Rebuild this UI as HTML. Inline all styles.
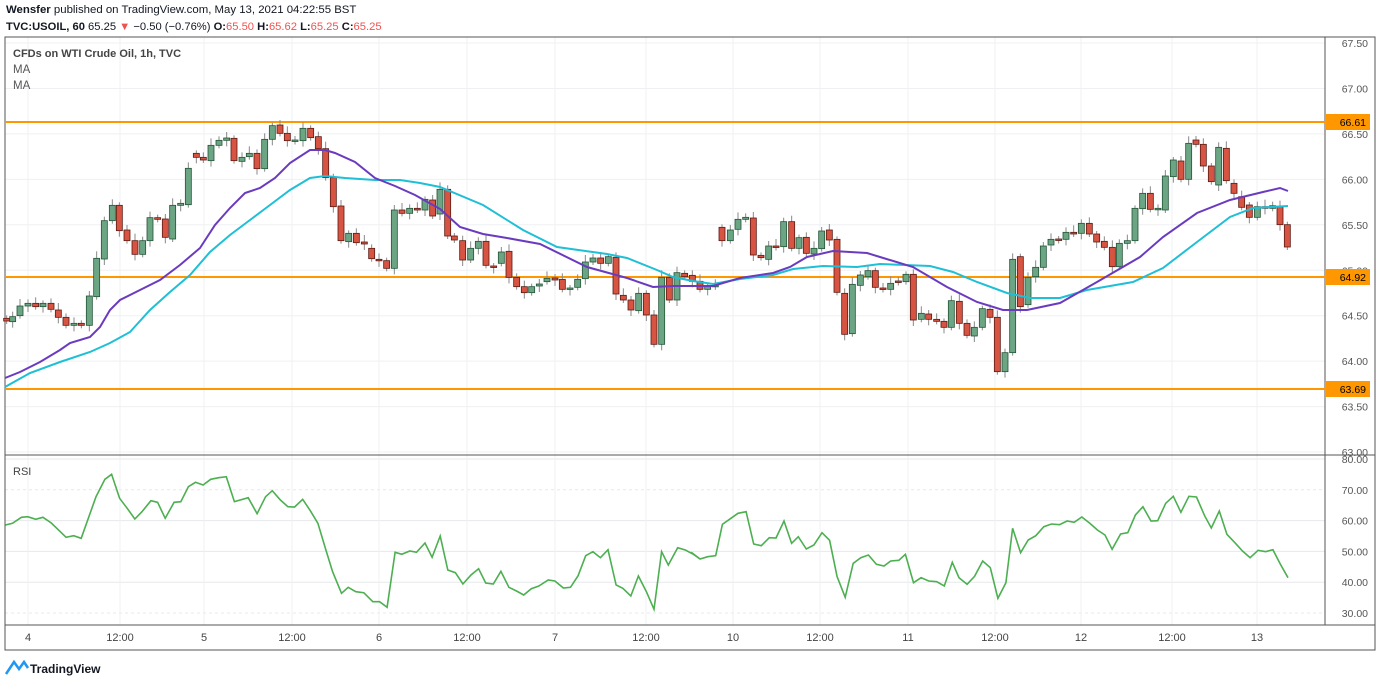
<!DOCTYPE html>
<html><head><meta charset="utf-8">
<style>
body{margin:0;width:1380px;height:685px;background:#fff;overflow:hidden;font-family:"Liberation Sans",Arial,sans-serif;}
#hdr{position:absolute;left:6px;top:2px;font-size:11.4px;color:#131722;line-height:17px;}
#hdr div+div{font-size:11.2px}
#hdr b{font-weight:bold}
.r{color:#ef5350}
</style></head><body>
<div id="hdr"><div><b>Wensfer</b> published on TradingView.com, May 13, 2021 04:22:55 BST</div>
<div><b>TVC:USOIL, 60</b> 65.25 <span class="r">▼</span> −0.50 (−0.76%) <b>O:</b><span class="r">65.50</span> <b>H:</b><span class="r">65.62</span> <b>L:</b><span class="r">65.25</span> <b>C:</b><span class="r">65.25</span></div></div>
<svg id="s" width="1380" height="685" style="position:absolute;left:0;top:0" xmlns="http://www.w3.org/2000/svg"></svg>
<script>
const S=document.getElementById('s');let h='';
const L=5,R=1325,T=37,M=455,B=625;
for(let p=63;p<=67.5;p+=0.5){let y=43+(67.5-p)*90.9;h+=`<line x1="${L}" x2="${R}" y1="${y}" y2="${y}" stroke="#eef0f3"/>`;h+=`<text x="1368" y="${y+4}" font-size="10.5" fill="#555" text-anchor="end">${p.toFixed(2)}</text>`;}
for(let v=30;v<=80;v+=10){let y=459+(80-v)*3.08;let d=(v==30||v==70)?' stroke-dasharray="3,3"':'';h+=`<line x1="${L}" x2="${R}" y1="${y}" y2="${y}" stroke="#e6e8eb"${d}/>`;h+=`<text x="1368" y="${y+4}" font-size="10.5" fill="#555" text-anchor="end">${v.toFixed(2)}</text>`;}
const tl=[[28,'4'],[120,'12:00'],[204,'5'],[292,'12:00'],[379,'6'],[467,'12:00'],[555,'7'],[646,'12:00'],[733,'10'],[820,'12:00'],[908,'11'],[995,'12:00'],[1081,'12'],[1172,'12:00'],[1257,'13']];
tl.forEach(t=>{h+=`<line x1="${t[0]}" x2="${t[0]}" y1="${T}" y2="${B}" stroke="#eef0f3"/>`;h+=`<text x="${t[0]}" y="641" font-size="11" fill="#444" text-anchor="middle">${t[1]}</text>`;});
h+=`<rect x="${L}" y="${T}" width="${R-L}" height="${B-T}" fill="none" stroke="#555"/>`;
h+=`<line x1="${L}" x2="1375" y1="${M}" y2="${M}" stroke="#555"/>`;
h+=`<rect x="${L}" y="${T}" width="1370" height="${650-T}" fill="none" stroke="#555"/>`;
h+=`<line x1="${L}" x2="1375" y1="${B}" y2="${B}" stroke="#555"/>`;
const z1=[[20,'r',655,663],[38,'g',650,665],[60,'g',618,647],[84,'g',610,618],[107,'r',610,620],[129,'g',610,620],[153,'r',610,628],[175,'r',630,652],[198,'r',652,676],[222,'g',670,676],[244,'r',670,676],[268,'g',588,676],[290,'g',475,590],[313,'g',362,477],[337,'g',316,362],[358,'r',316,392],[381,'r',390,422],[405,'r',422,463],[428,'g',422,463],[450,'g',353,422],[473,'r',353,358],[496,'r',357,412],[518,'g',316,417],[542,'g',310,316],[565,'g',205,314],[589,'r',160,172],[610,'r',172,180],[633,'g',136,182],[657,'g',121,136],[680,'g',114,121],[702,'r',115,182],[726,'g',172,184],[748,'g',160,170],[771,'r',160,206],[794,'g',118,206],[817,'g',77,118],[840,'r',75,100],[862,'r',100,122],[885,'g',120,124],[909,'g',85,122],[932,'r',85,113],[955,'r',110,146],[977,'r',146,233],[1000,'r',233,320],[1023,'r',318,422],[1046,'g',400,425],[1069,'r',400,428],[1093,'r',426,432],[1115,'r',445,476],[1137,'r',478,481],[1160,'r',482,505],[1183,'g',330,505],[1206,'r',330,340],[1229,'g',325,340],[1252,'r',325,330],[1275,'g',298,330],[1298,'r',300,348],[1320,'g',268,342],[1343,'r',268,408]];
const z2=[[43,'r',168,180],[68,'r',182,240],[92,'g',205,240],[115,'g',184,205],[138,'r',184,256],[161,'r',258,262],[184,'g',216,250],[207,'r',214,292],[230,'r',292,320],[253,'r',320,338],[275,'g',320,338],[298,'g',312,318],[321,'g',295,305],[345,'r',294,300],[367,'r',298,328],[390,'g',324,328],[413,'g',298,322],[436,'g',246,296],[459,'g',234,246],[482,'r',234,250],[505,'g',230,250],[528,'r',232,342],[550,'r',346,360],[573,'r',360,390],[596,'g',340,392],[619,'r',340,405],[642,'r',405,493],[665,'g',292,493],[688,'r',292,360],[711,'g',278,360],[734,'r',280,290],[757,'r',286,304],[780,'r',304,328],[803,'g',320,328],[826,'g',316,320],[846,'r',142,182],[871,'g',150,182],[894,'g',118,148],[917,'g',112,118],[940,'r',114,225],[963,'r',226,233],[986,'g',198,238],[1008,'r',198,200],[1031,'g',125,200],[1055,'r',125,205],[1077,'g',173,205],[1099,'r',172,220],[1122,'g',205,222],[1145,'g',153,206],[1168,'r',150,180],[1191,'r',178,337],[1214,'r',340,463],[1237,'g',313,461],[1261,'g',285,316],[1284,'g',272,290],[1306,'r',272,322],[1329,'r',324,328],[1352,'g',310,328],[1375,'r',303,305]];
const z3=[[78,'g',493,515],[100,'r',493,630],[124,'g',610,628],[146,'r',612,628],[170,'r',628,634],[192,'r',634,652],[214,'g',572,652],[238,'r',574,640],[261,'r',640,676],[283,'g',652,678],[307,'g',596,652],[330,'r',598,622],[352,'r',622,785],[375,'g',728,785],[398,'g',448,728],[421,'r',440,590],[444,'g',502,584],[467,'g',472,500],[490,'g',408,472],[513,'g',388,405],[536,'r',387,389],[558,'g',367,388],[581,'r',367,372],[604,'g',340,370],[628,'r',340,372],[650,'r',372,396],[673,'r',394,412],[697,'r',412,470],[718,'g',400,470],[742,'g',392,400],[765,'g',295,392],[788,'g',250,296],[811,'r',250,298],[834,'g',295,298],[856,'g',198,300],[880,'g',150,200],[903,'r',153,208],[926,'g',100,208],[948,'r',90,103],[970,'r',103,168],[994,'r',168,215],[1016,'g',112,225],[1039,'r',115,212],[1062,'r',220,250],[1085,'r',260,292],[1108,'r',285,322],[1132,'g',290,322],[1155,'r',290,295],[1178,'g',287,295],[1200,'r',290,344],[1222,'r',344,411]];
function cand(arr,ox,oy){arr.forEach((c,i)=>{const x=ox+c[0]/3,t=oy+c[2]/3,b=Math.max(oy+c[3]/3,t+1.5);const w=3+((i*7)%5),w2=3+((i*3)%6);const col=c[1]=='g'?'#6ba583':'#d75442',st=c[1]=='g'?'#225437':'#5b1a13';
h+=`<line x1="${x}" x2="${x}" y1="${t-w}" y2="${b+w2}" stroke="#888" stroke-width="1"/>`;
h+=`<rect x="${x-3}" y="${t}" width="6" height="${b-t}" fill="${col}" stroke="${st}" stroke-width="0.8"/>`;});}
[[122,'66.61'],[277,'64.92'],[389,'63.69']].forEach(l=>{h+=`<line x1="${L}" x2="${R}" y1="${l[0]}" y2="${l[0]}" stroke="#ff9800" stroke-width="2"/>`;});
cand(z1,0,100);cand(z2,440,180);cand(z3,880,110);
const pu=[[5,378],[20,372],[40,362],[60,350],[70,343],[90,337],[100,327],[110,310],[120,300],[140,290],[160,280],[180,265],[200,248],[215,225],[230,208],[245,193],[260,188],[275,178],[290,163],[310,150],[325,150],[335,153],[355,162],[375,178],[395,186],[415,195],[440,209],[460,227],[483,234],[507,238],[540,244],[587,267],[627,278],[653,287],[673,286],[713,286],[740,278],[773,273],[790,267],[807,257],[833,251],[867,253],[880,257],[913,267],[947,287],[977,302],[1003,310],[1027,310],[1060,303],[1097,282],[1140,257],[1163,237],[1197,213],[1230,200],[1263,192],[1280,188],[1288,191]];
const cy=[[5,387],[30,373],[60,362],[90,352],[110,343],[130,332],[150,310],[170,292],[190,275],[210,252],[230,235],[250,220],[270,205],[290,190],[310,178],[325,176],[345,178],[375,180],[400,180],[420,183],[440,187],[483,205],[523,230],[557,247],[607,254],[627,258],[657,270],[673,277],[693,281],[713,284],[740,279],[773,275],[793,269],[823,266],[857,267],[880,264],[930,266],[953,272],[977,282],[1007,293],[1030,298],[1060,298],[1087,290],[1133,282],[1163,268],[1197,242],[1230,217],[1253,208],[1288,206]];
h+=`<polyline points="${cy.join(' ')}" fill="none" stroke="#1fbfd6" stroke-width="2"/>`;
h+=`<polyline points="${pu.join(' ')}" fill="none" stroke="#6a3bbf" stroke-width="2"/>`;
[[122,'66.61'],[277,'64.92'],[389,'63.69']].forEach(l=>{h+=`<rect x="1326" y="${l[0]-8}" width="44" height="16" fill="#ff9800"/><text x="1366" y="${l[0]+4}" font-size="10.5" fill="#000" text-anchor="end">${l[1]}</text>`;});
const r4=[[12,210],[28,205],[48,187],[62,185],[80,193],[96,187],[115,204],[148,247],[165,242],[182,250],[215,125],[235,73],[250,58],[268,130],[285,160],[302,192],[318,170],[338,137],[353,142],[370,190],[390,142],[405,140],[422,95],[438,82],[455,90],[472,73],[490,68],[507,65],[525,140],[556,128],[576,176],[595,125],[610,107],[628,135],[645,155],[660,156],[678,133],[695,167],[712,205],[730,285],[745,350],[765,415],[780,397],[797,410],[815,413],[835,440],[850,440],[867,457],[885,292],[900,298],[918,288],[933,292],[952,264],[968,307],[986,243],[1003,345],[1020,353],[1037,387],[1055,360],[1072,341],[1088,384],[1105,387],[1122,349],[1140,397],[1157,408],[1173,420],[1190,401],[1207,393],[1228,375],[1243,378],[1262,399],[1278,397],[1295,362],[1312,302],[1328,290],[1345,308],[1362,284],[1380,390],[1395,400],[1413,423],[1430,363],[1448,410],[1465,463],[1482,290],[1497,330],[1518,278],[1535,285],[1552,297],[1568,312]];
const r5=[[25,292],[45,312],[62,305],[80,302],[95,208],[130,175],[148,170],[165,267],[182,272],[200,248],[215,249],[233,198],[250,265],[265,245],[283,282],[300,270],[318,233],[335,256],[352,365],[370,427],[388,325],[405,308],[422,300],[440,328],[457,333],[472,318],[490,316],[505,298],[523,383],[540,368],[557,378],[575,380],[592,393],[610,322],[625,368],[643,388],[660,364],[678,318],[695,338],[712,430],[730,383],[745,220],[763,293],[780,255],[797,242],[815,215],[832,207],[850,209],[867,198],[883,202],[900,186],[918,205],[935,225],[952,240],[968,283],[987,237],[1003,233],[1020,180],[1037,155],[1055,198],[1070,197],[1088,145],[1105,124],[1122,172],[1140,124],[1157,126],[1175,182],[1190,219],[1208,168],[1225,238],[1243,263],[1260,288],[1277,308],[1295,286],[1312,290],[1328,284],[1345,328],[1362,368]];
const rp=r4.map(p=>[(p[0]/2.24).toFixed(1),(455+p[1]/3).toFixed(1)]).concat(r5.map(p=>[(680+p[0]/2.24).toFixed(1),(455+p[1]/3).toFixed(1)]));
h+=`<polyline points="${rp.join(' ')}" fill="none" stroke="#4caf50" stroke-width="1.6"/>`;
h+=`<text x="13" y="475" font-size="11" fill="#444">RSI</text>`;
h+=`<text x="13" y="57" font-size="11" fill="#444" font-weight="bold">CFDs on WTI Crude Oil, 1h, TVC</text><text x="13" y="73" font-size="11.5" fill="#555">MA</text><text x="13" y="89" font-size="11.5" fill="#555">MA</text>`;
h+=`<path d="M6 674 L14 662 L19 669 L24 662 L28 668" fill="none" stroke="#2196f3" stroke-width="2.5"/><text x="30" y="673" font-size="12" fill="#131722" font-weight="bold">TradingView</text>`;
S.innerHTML=h;
</script>
</body></html>
